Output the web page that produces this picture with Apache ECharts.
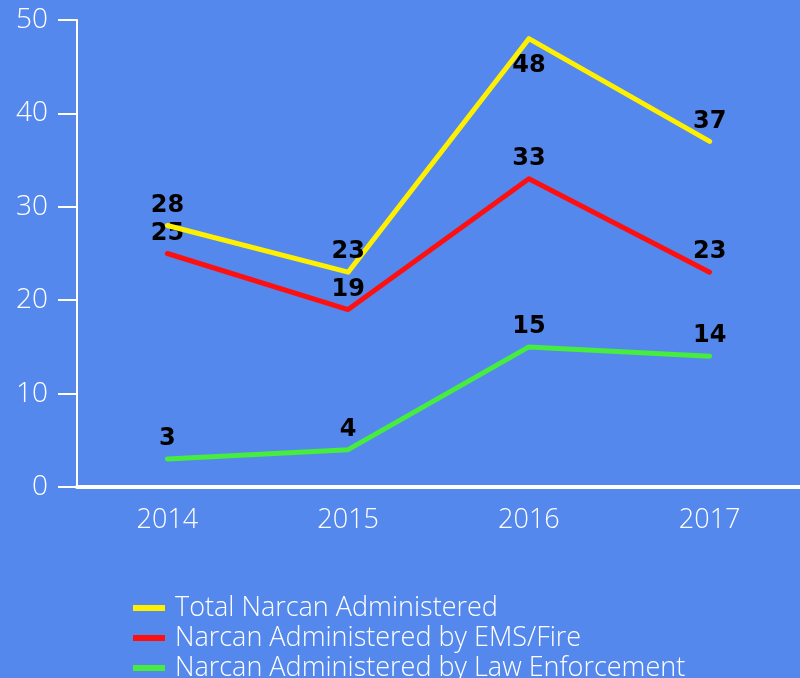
<!DOCTYPE html>
<html><head><meta charset="utf-8">
<script src="https://cdn.jsdelivr.net/npm/echarts@6/dist/echarts.min.js"></script>
<style>html,body{margin:0;padding:0;background:#5488EC;}#c{width:800px;height:678px;}</style>
</head><body><div id="c"></div>
<script>
const years = ['2014', '2015', '2016', '2017'];
const totalNarcan = [28, 23, 48, 37];
const emsFire = [25, 19, 33, 23];
const lawEnforcement = [3, 4, 15, 14];
const seriesNames = ['Total Narcan Administered', 'Narcan Administered by EMS/Fire', 'Narcan Administered by Law Enforcement'];
const yTicks = {min: 0, max: 50, interval: 10};

const colors = ['#FFF000', '#FF1010', '#46EC3E'];
const labelBase = {show: true, position: 'top', distance: 8, color: '#000', fontFamily: 'DejaVu Sans', fontWeight: 'bold', fontSize: 24};

function mkSeries(name, data, color, idx) {
  return {
    name, type: 'line', data: data.map((v, i) => {
      if (idx === 0 && v === 48) return {value: v, label: {position: 'bottom', distance: 15}};
      return v;
    }),
    showSymbol: true, symbol: 'circle', symbolSize: 0.01,
    lineStyle: {color, width: 5, cap: 'round', join: 'round'},
    itemStyle: {color},
    label: Object.assign({}, labelBase),
    emphasis: {disabled: true},
    z: 3 - idx
  };
}

const chart = echarts.init(document.getElementById('c'));
chart.setOption({
  backgroundColor: '#5488EC',
  animation: false,
  grid: {left: 77, right: 0, top: 20, bottom: 191, containLabel: false},
  legend: {
    orient: 'vertical', left: 133, top: 593, height: 200, padding: 0,
    itemWidth: 32, itemHeight: 6, itemGap: 0, icon: 'rect',
    textStyle: {color: '#fff', fontFamily: 'Open Sans', fontSize: 27, lineHeight: 30, fontWeight: 300, padding: [0, 0, 0, 5]},
    data: seriesNames
  },
  xAxis: {
    type: 'category', data: years, boundaryGap: true,
    axisLine: {lineStyle: {color: '#fff', width: 4}},
    axisTick: {alignWithLabel: true, length: 18, lineStyle: {color: '#fff', width: 2}},
    axisLabel: {color: '#fff', fontFamily: 'Open Sans', fontWeight: 300, fontSize: 27, margin: 20}
  },
  yAxis: {
    type: 'value', min: yTicks.min, max: yTicks.max, interval: yTicks.interval,
    axisLine: {show: true, lineStyle: {color: '#fff', width: 2}},
    axisTick: {show: true, length: 19, lineStyle: {color: '#fff', width: 2}},
    axisLabel: {color: '#fff', fontFamily: 'Open Sans', fontWeight: 300, fontSize: 28, margin: 29},
    splitLine: {show: false}
  },
  series: [
    mkSeries(seriesNames[0], totalNarcan, colors[0], 0),
    mkSeries(seriesNames[1], emsFire, colors[1], 1),
    mkSeries(seriesNames[2], lawEnforcement, colors[2], 2)
  ]
});
</script></body></html>
